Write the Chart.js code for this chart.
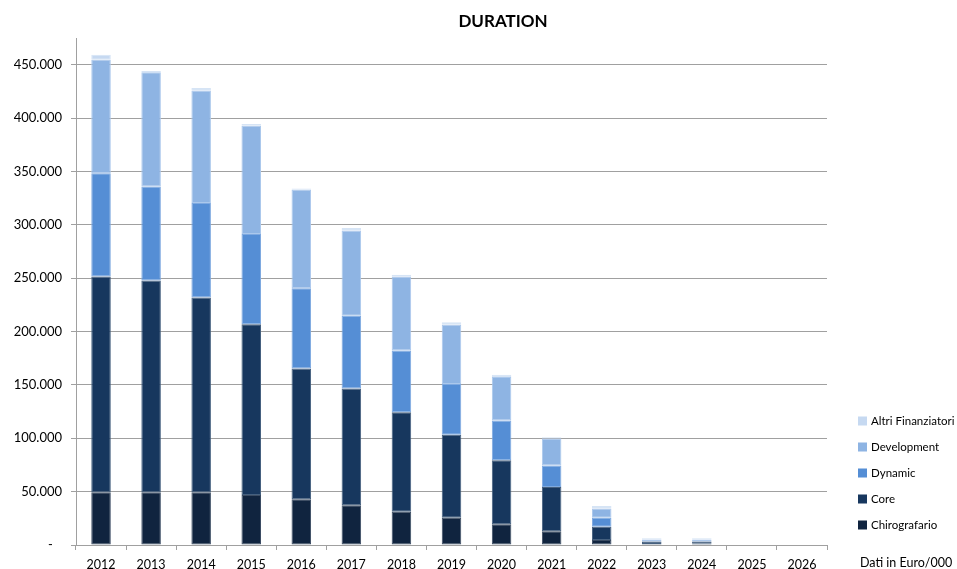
<!DOCTYPE html>
<html>
<head>
<meta charset="utf-8">
<script src="https://cdn.jsdelivr.net/npm/chart.js@4"></script>
<style>
  html, body { margin: 0; padding: 0; background: #ffffff; }
  #wrap { width: 957px; height: 569px; position: relative; }
</style>
</head>
<body>
<div id="wrap"><canvas id="c" width="957" height="569"></canvas></div>
<script>
// Years on the x axis
const years = ['2012','2013','2014','2015','2016','2017','2018','2019','2020','2021','2022','2023','2024','2025','2026'];

// Amounts per tranche (Euro/000)
const chirografario = [49400, 49400, 49400, 46900, 42800, 37200, 31200, 25600, 19400, 12800, 4700, 1000, 1200, 0, 0];
const core          = [202200, 198400, 182500, 160000, 122500, 109400, 93200, 77800, 60000, 41600, 12500, 2200, 2000, 0, 0];
const dynamic       = [96800, 88100, 88400, 84400, 75300, 68100, 57800, 47500, 37200, 20000, 8400, 500, 600, 0, 0];
const development   = [106300, 106900, 105600, 101500, 92200, 80000, 69400, 55400, 40900, 25300, 8500, 1500, 1400, 0, 0];
const altri         = [4700, 1300, 2200, 1600, 1200, 2200, 1500, 2500, 1900, 1300, 2500, 1100, 1100, 0, 0];

// Y axis tick values
const yTicks = [0, 50000, 100000, 150000, 200000, 250000, 300000, 350000, 400000, 450000];

const FONT = 'Lato, "Open Sans", sans-serif';

function fmt(v) {
  if (v === 0) return '-\u2007\u2009';
  return String(v).replace(/\B(?=(\d{3})+(?!\d))/g, '.');
}

const series = [
  { label: 'Chirografario',       data: chirografario, color: '#10243f', edge: '#3b4c63' },
  { label: 'Core',                data: core,          color: '#17375e', edge: '#45607f' },
  { label: 'Dynamic',             data: dynamic,       color: '#558ed5', edge: '#7ea9e0' },
  { label: 'Development',         data: development,   color: '#8eb4e3', edge: '#abc8ec' },
  { label: 'Altri Finanziatori',  data: altri,         color: '#c6d9f1', edge: '#d6e4f5' }
];

// Title, side legend and unit note drawn at fixed spots around the plot
const decorations = {
  id: 'decorations',
  afterDraw(chart) {
    const ctx = chart.ctx;
    ctx.save();
    ctx.fillStyle = '#000000';
    ctx.textAlign = 'center';
    ctx.textBaseline = 'middle';
    ctx.font = 'bold 17px ' + FONT;
    ctx.fillText('DURATION', 503, 22);

    const ds = chart.data.datasets;
    ctx.font = '11.5px ' + FONT;
    ctx.textAlign = 'left';
    for (let i = ds.length - 1, row = 0; i >= 0; i--, row++) {
      const y = 421 + row * 26;
      ctx.fillStyle = ds[i].backgroundColor;
      ctx.fillRect(858, y - 4.5, 9, 9);
      ctx.fillStyle = '#000000';
      ctx.fillText(ds[i].label, 871, y + 0.5);
    }
    ctx.font = '12.5px ' + FONT;
    ctx.fillText('Dati in Euro/000', 860, 563);
    ctx.restore();
  }
};

new Chart(document.getElementById('c'), {
  type: 'bar',
  data: {
    labels: years,
    datasets: series.map(s => ({
      label: s.label,
      data: s.data,
      backgroundColor: s.color,
      borderColor: s.edge,
      borderWidth: 1,
      borderSkipped: false,
      categoryPercentage: 1.0,
      barPercentage: 0.39
    }))
  },
  options: {
    responsive: false,
    animation: false,
    devicePixelRatio: 1,
    layout: { padding: { left: 0, right: 130, top: 38, bottom: 0 } },
    plugins: {
      legend: { display: false },
      title: { display: false },
      tooltip: { enabled: false }
    },
    scales: {
      x: {
        stacked: true,
        afterFit(scale) { scale.height = 24; },
        grid: {
          offset: true,
          drawOnChartArea: false,
          drawTicks: true,
          tickLength: 5,
          color: '#a0a0a0'
        },
        border: { display: true, color: '#a0a0a0', width: 1 },
        ticks: {
          color: '#000000',
          font: { family: FONT, size: 12.5 },
          padding: 7,
          maxRotation: 0,
          autoSkip: false
        }
      },
      y: {
        stacked: true,
        min: 0,
        max: 475000,
        afterFit(scale) { scale.width = 76; },
        afterBuildTicks(scale) {
          scale.ticks = yTicks.map(v => ({ value: v }));
        },
        grid: {
          drawTicks: true,
          tickLength: 5,
          color: '#a0a0a0',
          lineWidth: 1
        },
        border: { display: true, color: '#a0a0a0', width: 1 },
        ticks: {
          color: '#000000',
          font: { family: FONT, size: 13 },
          padding: 9,
          callback: v => fmt(v)
        }
      }
    }
  },
  plugins: [decorations]
});
</script>
</body>
</html>
